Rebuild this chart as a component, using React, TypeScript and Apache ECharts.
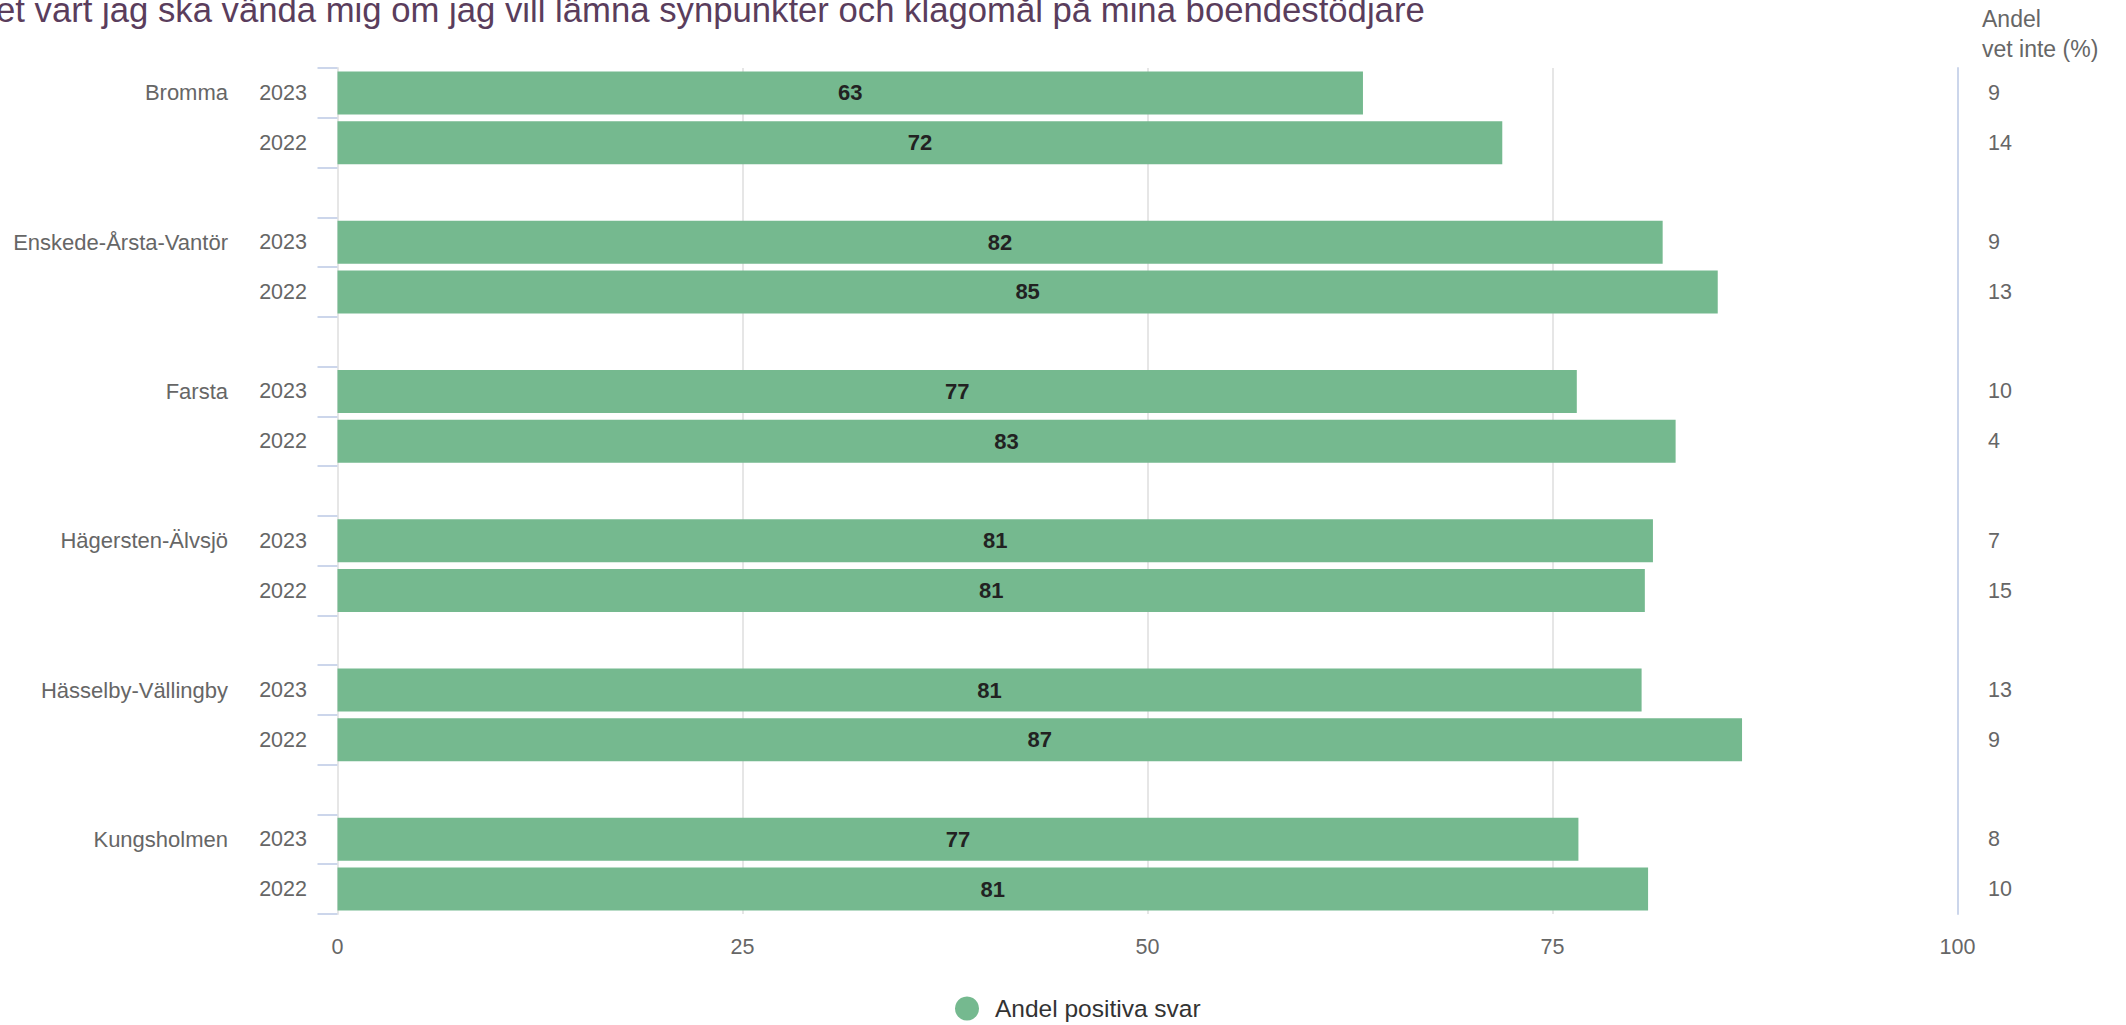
import React, { useEffect, useRef } from "react";
import * as echarts from "echarts";

const titleText =
  "et vart jag ska vända mig om jag vill lämna synpunkter och klagomål på mina boendestödjare";
const districts = [
  "Bromma",
  "Enskede-Årsta-Vantör",
  "Farsta",
  "Hägersten-Älvsjö",
  "Hässelby-Vällingby",
  "Kungsholmen",
];
const years = ["2023", "2022"];
const positiva2023 = [63.3, 81.8, 76.5, 81.2, 80.5, 76.6];
const positiva2022 = [71.9, 85.2, 82.6, 80.7, 86.7, 80.9];
const vetInte2023 = [9, 9, 10, 7, 13, 8];
const vetInte2022 = [14, 13, 4, 15, 9, 10];
const xTicks = [0, 25, 50, 75, 100];
const seriesName = "Andel positiva svar";
const vetInteHeader = "Andel\nvet inte (%)";

const FONT = "'Liberation Sans', Arial, Helvetica, sans-serif";

export default function App() {
  const ref = useRef<HTMLDivElement>(null);

  useEffect(() => {
    if (!ref.current) return;
    const chart = echarts.init(ref.current, null, { renderer: "svg" });

    // Rows per district: 2023, 2022, then an empty gap row (none after the last)
    const keys: string[] = [];
    const yearLabels: string[] = [];
    const districtLabels: string[] = [];
    const vetLabels: string[] = [];
    const values: (number | string)[] = [];
    districts.forEach((d, i) => {
      const vals = [positiva2023[i], positiva2022[i]];
      const vets = [vetInte2023[i], vetInte2022[i]];
      years.forEach((y, j) => {
        keys.push(d + " " + y);
        yearLabels.push(y);
        districtLabels.push(j === 0 ? d : "");
        vetLabels.push(String(vets[j]));
        values.push(vals[j]);
      });
      if (i < districts.length - 1) {
        keys.push("gap" + i);
        yearLabels.push("");
        districtLabels.push("");
        vetLabels.push("");
        values.push("-");
      }
    });

    const labelBase = { fontFamily: FONT, color: "#666666", fontSize: 21 };

    chart.setOption({
      animation: false,
      textStyle: { fontFamily: FONT },
      grid: { left: 337.5, right: 168.5, top: 68, bottom: 111, containLabel: false },
      xAxis: {
        type: "value",
        min: xTicks[0],
        max: xTicks[xTicks.length - 1],
        interval: xTicks[1] - xTicks[0],
        axisLine: { show: false },
        axisTick: { show: false },
        axisLabel: { ...labelBase, fontSize: 21.5, margin: 22 },
        splitLine: { show: true, lineStyle: { color: "#e6e6e6", width: 2 } },
      },
      yAxis: [
        {
          type: "category",
          data: keys,
          inverse: true,
          position: "left",
          axisLine: { show: true, lineStyle: { color: "#e6e6e6", width: 2 } },
          axisTick: {
            show: true,
            length: 20,
            interval: 0,
            lineStyle: { color: "#ccd6eb", width: 2 },
          },
          axisLabel: {
            ...labelBase,
            fontSize: 21.5,
            margin: 30.5,
            interval: 0,
            formatter: (_v: string, idx: number) => yearLabels[idx],
          },
        },
        {
          type: "category",
          data: keys,
          inverse: true,
          position: "left",
          axisLine: { show: false },
          axisTick: { show: false },
          axisLabel: {
            ...labelBase,
            fontSize: 22,
            margin: 109.5,
            interval: 0,
            formatter: (_v: string, idx: number) => districtLabels[idx],
          },
        },
        {
          type: "category",
          data: keys,
          inverse: true,
          position: "right",
          axisLine: { show: true, lineStyle: { color: "#ccd6eb", width: 2 } },
          axisTick: { show: false },
          axisLabel: {
            ...labelBase,
            fontSize: 21.5,
            margin: 30.5,
            interval: 0,
            formatter: (_v: string, idx: number) => vetLabels[idx],
          },
        },
      ],
      legend: {
        data: [seriesName],
        left: 955,
        top: 996,
        padding: 0,
        icon: "circle",
        itemWidth: 46,
        itemHeight: 24,
        textStyle: { fontFamily: FONT, fontSize: 24.5, color: "#333333" },
      },
      graphic: [
        {
          type: "text",
          left: -4,
          top: -8,
          style: {
            text: titleText,
            font: "34.7px " + FONT,
            fill: "#5a3d5c",
            verticalAlign: "top",
          },
        },
        {
          type: "text",
          left: 1982,
          top: 4,
          style: {
            text: vetInteHeader,
            font: "23px " + FONT,
            fill: "#666666",
            lineHeight: 30,
          },
        },
      ],
      series: [
        {
          name: seriesName,
          type: "bar",
          yAxisIndex: 0,
          data: values,
          barCategoryGap: "13.6%",
          itemStyle: { color: "#75b98f" },
          label: {
            show: true,
            position: "inside",
            fontFamily: FONT,
            fontSize: 22,
            fontWeight: "bold",
            color: "#222222",
            formatter: (p: any) => String(Math.round(p.value)),
          },
        },
      ],
    });

    return () => chart.dispose();
  }, []);

  return (
    <div
      ref={ref}
      style={{ position: "absolute", left: 0, top: 0, width: 2126, height: 1025 }}
    />
  );
}
